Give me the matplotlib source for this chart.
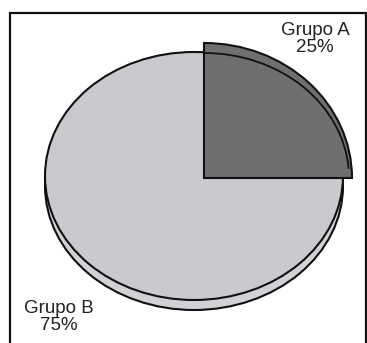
import matplotlib
matplotlib.use('Agg')
import matplotlib.pyplot as plt
from matplotlib.patches import Ellipse, Arc, Rectangle

plt.rcParams['font.family'] = ['Liberation Sans', 'DejaVu Sans']

# datos del gráfico
grupos = ['Grupo A', 'Grupo B']
porcentajes = [25, 75]

COLOR_A = '#6f6f71'
COLOR_B = '#c9c9ce'
COLOR_LADO = '#d2d2d6'
W, H = 367, 343

fig = plt.figure(figsize=(W / 100, H / 100), dpi=100)
fig.patch.set_facecolor('white')

# marco exterior (abierto por abajo)
fig.patches.append(Rectangle((10 / W, -0.05), 356 / W, (H - 12.5) / H + 0.05,
                             transform=fig.transFigure, fill=False,
                             edgecolor='#111111', linewidth=1.6))

# base de la torta (elipse inclinada con grosor)
ax_b = fig.add_axes([45 / W, 43 / H, 298 / W, 248 / H])
prof = 10 / 124
ax_b.pie(porcentajes, startangle=0, colors=[COLOR_LADO, COLOR_LADO],
         center=(0, -prof), wedgeprops={'linewidth': 0, 'clip_on': False})
ax_b.add_patch(Ellipse((0, -prof), 2, 2, fill=False, edgecolor='#111111',
                       linewidth=1.5, clip_on=False))
ax_b.pie(porcentajes, startangle=0, colors=[COLOR_B, COLOR_B],
         wedgeprops={'linewidth': 0, 'clip_on': False})
ax_b.add_patch(Ellipse((0, 0), 2, 2, fill=False, edgecolor='#111111',
                       linewidth=1.5, clip_on=False))
ax_b.set_aspect('auto')
ax_b.set_xlim(-1, 1)
ax_b.set_ylim(-1, 1)
ax_b.axis('off')

# porción A levantada
ax_a = fig.add_axes([56 / W, 30 / H, 296 / W, 270 / H])
ax_a.pie([porcentajes[0] / 100], normalize=False, startangle=0, colors=[COLOR_A],
         wedgeprops={'edgecolor': '#111111', 'linewidth': 1.5, 'clip_on': False})
ax_a.add_patch(Arc((0, 0), 2 * 145 / 148, 2 * 125 / 135, theta1=4, theta2=90,
                   edgecolor='#111111', linewidth=1.3, clip_on=False))
ax_a.set_aspect('auto')
ax_a.set_xlim(-1, 1)
ax_a.set_ylim(-1, 1)
ax_a.axis('off')

# etiquetas
pos_etiquetas = [(315, 39), (59, 317)]
for nombre, pct, (px, py) in zip(grupos, porcentajes, pos_etiquetas):
    fig.text(px / W, 1 - py / H, f'{nombre}\n{pct}%', ha='center', va='center',
             fontsize=13.5, color='#222222', linespacing=0.95)

fig.savefig('out.png', dpi=100, facecolor='white')
